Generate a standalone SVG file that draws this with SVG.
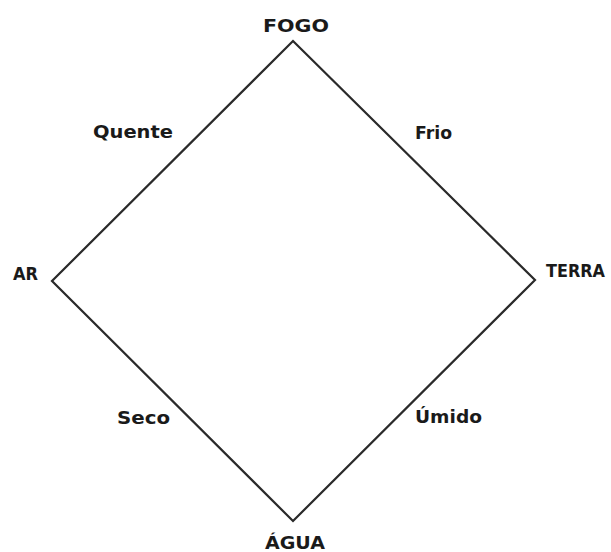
<svg xmlns="http://www.w3.org/2000/svg" width="611" height="552" viewBox="0 0 611 552">
<style>
.lbl{font-family:"DejaVu Sans","Liberation Sans",sans-serif;font-size:18px;font-weight:bold;fill:#1a1a1a}
.edge{fill:none;stroke:#2a2a2a;stroke-width:2.2;stroke-linejoin:miter}
</style>
<rect width="611" height="552" fill="#ffffff"/>
<g id="connectors">
<path class="edge" d="M293 41 L535 280 L293 521 L52 281 Z"/>
</g>
<g id="fogo"><text class="lbl" x="263" y="32" textLength="66" lengthAdjust="spacingAndGlyphs">FOGO</text></g>
<g id="ar"><text class="lbl" x="13" y="280" textLength="25" lengthAdjust="spacingAndGlyphs">AR</text></g>
<g id="terra"><text class="lbl" x="546" y="277" textLength="59" lengthAdjust="spacingAndGlyphs">TERRA</text></g>
<g id="agua"><text class="lbl" x="265" y="549" textLength="60" lengthAdjust="spacingAndGlyphs">ÁGUA</text></g>
<g id="quente"><text class="lbl" x="93" y="138" textLength="80" lengthAdjust="spacingAndGlyphs">Quente</text></g>
<g id="frio"><text class="lbl" x="415" y="139" textLength="37" lengthAdjust="spacingAndGlyphs">Frio</text></g>
<g id="seco"><text class="lbl" x="117" y="424" textLength="53" lengthAdjust="spacingAndGlyphs">Seco</text></g>
<g id="umido"><text class="lbl" x="415" y="423" textLength="67" lengthAdjust="spacingAndGlyphs">Úmido</text></g>
</svg>
